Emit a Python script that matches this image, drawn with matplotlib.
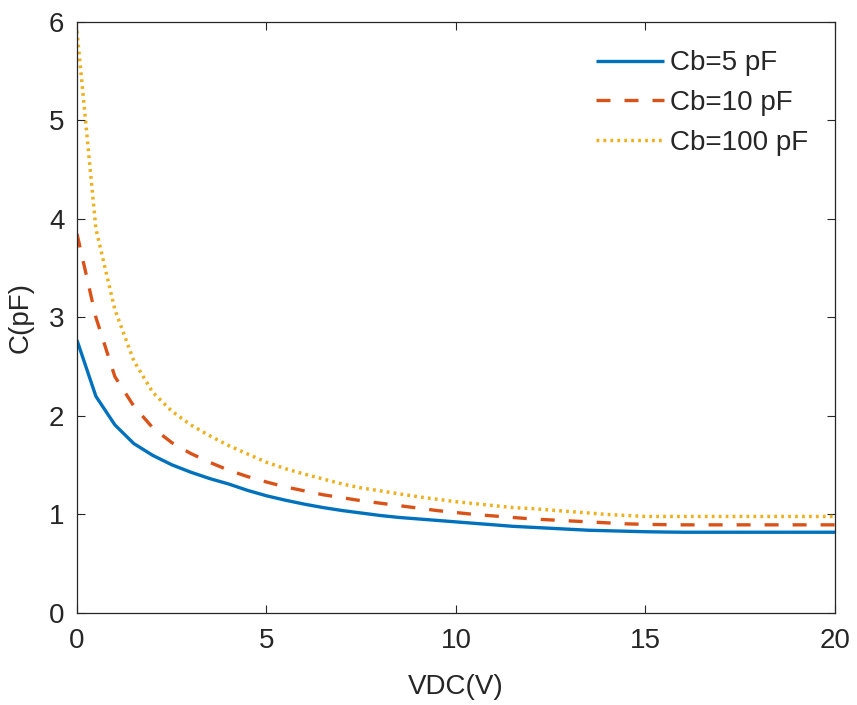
import matplotlib
matplotlib.use("Agg")
import matplotlib.pyplot as plt

plt.rcParams['font.family'] = ['Liberation Sans', 'DejaVu Sans']

vdc = [0, 0.5, 1, 1.5, 2, 2.5, 3, 3.5, 4, 4.5, 5, 5.5, 6, 6.5, 7, 7.5, 8, 8.5, 9, 9.5,
       10, 10.5, 11, 11.5, 12, 12.5, 13, 13.5, 14, 14.5, 15, 15.5, 16, 16.5, 17, 17.5,
       18, 18.5, 19, 19.5, 20]

c_cb5 = [2.77, 2.20, 1.91, 1.72, 1.60, 1.505, 1.43, 1.365, 1.31, 1.245, 1.19, 1.145, 1.105,
         1.07, 1.04, 1.015, 0.99, 0.97, 0.955, 0.94, 0.925, 0.91, 0.895, 0.88, 0.87,
         0.86, 0.85, 0.84, 0.835, 0.83, 0.825, 0.822, 0.82, 0.82, 0.82, 0.82, 0.82,
         0.82, 0.82, 0.82, 0.82]

c_cb10 = [3.85, 3.00, 2.40, 2.10, 1.88, 1.73, 1.62, 1.53, 1.45, 1.385, 1.33, 1.28, 1.24,
          1.20, 1.17, 1.14, 1.115, 1.09, 1.065, 1.04, 1.02, 1.00, 0.985, 0.97, 0.955,
          0.945, 0.935, 0.925, 0.915, 0.905, 0.90, 0.897, 0.895, 0.895, 0.895, 0.895,
          0.895, 0.895, 0.895, 0.895, 0.895]

c_cb100 = [5.91, 3.90, 3.08, 2.56, 2.24, 2.05, 1.91, 1.80, 1.70, 1.615, 1.53, 1.465, 1.41,
           1.36, 1.31, 1.27, 1.24, 1.21, 1.18, 1.155, 1.13, 1.11, 1.09, 1.07, 1.06, 1.045,
           1.03, 1.015, 1.0, 0.99, 0.98, 0.98, 0.98, 0.98, 0.98, 0.98, 0.98, 0.98, 0.98,
           0.98, 0.98]

labels = ['Cb=5 pF', 'Cb=10 pF', 'Cb=100 pF']
x_ticks = [0, 5, 10, 15, 20]
y_ticks = [0, 1, 2, 3, 4, 5, 6]

fig = plt.figure(figsize=(8.57, 7.05), dpi=100)
ax = fig.add_axes([0.0898, 0.1305, 0.8845, 0.8383])

ax.plot(vdc, c_cb5, color='#0072BD', lw=2.4, label=labels[0], solid_capstyle='butt')
ax.plot(vdc, c_cb10, color='#D95319', lw=2.4, linestyle=(0, (4.2, 4.2)),
        dash_capstyle='butt', label=labels[1])
ax.plot(vdc, c_cb100, color='#EDB120', lw=2.5, linestyle=(0, (0.8, 1.2)),
        dash_capstyle='butt', label=labels[2])

ax.set_xlim(0, 20)
ax.set_ylim(0, 6)
ax.set_xticks(x_ticks)
ax.set_yticks(y_ticks)

fs = 20
ax.tick_params(direction='in', length=6, width=0.8, colors='#262626',
               labelsize=fs, top=True, right=True)
ax.tick_params(axis='x', pad=11)
ax.tick_params(axis='y', pad=9)
for s in ax.spines.values():
    s.set_color('#262626')
    s.set_linewidth(0.9)

ax.set_xlabel('VDC(V)', fontsize=fs, color='#262626', labelpad=14)
ax.set_ylabel('C(pF)', fontsize=fs, color='#262626', labelpad=11)

leg = ax.legend(loc='upper right', bbox_to_anchor=(0.99, 0.985), frameon=False,
                fontsize=fs, handlelength=2.45, handletextpad=0.2,
                labelspacing=0.5, borderaxespad=0.3)
for t in leg.get_texts():
    t.set_color('#262626')

fig.savefig('out.png', dpi=100)
